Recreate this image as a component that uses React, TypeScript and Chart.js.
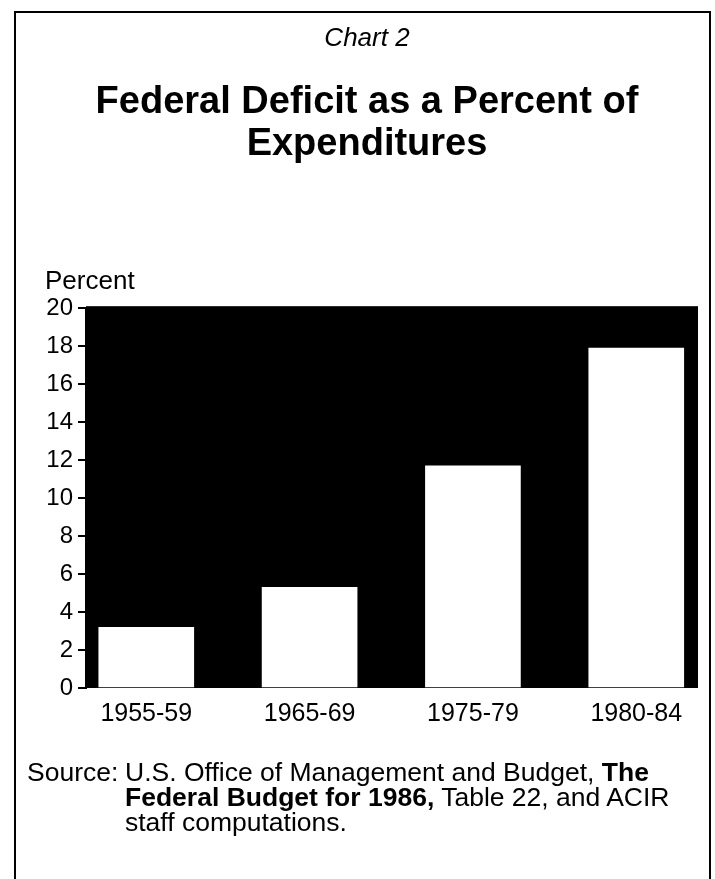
import React, { useEffect, useRef } from "react";
import { Chart, registerables } from "chart.js";

Chart.register(...registerables);

const categories = ["1955-59", "1965-69", "1975-79", "1980-84"];
const deficitPct = [3.2, 5.3, 11.7, 17.9];
const yTickValues = [0, 2, 4, 6, 8, 10, 12, 14, 16, 18, 20];
const chartLabel = "Chart 2";
const titleLines = ["Federal Deficit as a Percent of", "Expenditures"];
const yAxisLabel = "Percent";

const FONT = "'Liberation Sans', Arial, Helvetica, sans-serif";

const blackPlot = {
  id: "blackPlot",
  beforeDatasetsDraw(chart: any) {
    const { ctx, chartArea } = chart;
    ctx.save();
    ctx.fillStyle = "#000";
    ctx.fillRect(chartArea.left, chartArea.top - 2, chartArea.right - chartArea.left, chartArea.bottom - chartArea.top + 2);
    ctx.restore();
  },
  afterDraw(chart: any) {
    const { ctx, chartArea } = chart;
    ctx.save();
    ctx.fillStyle = "#000";
    ctx.font = `26px ${FONT}`;
    ctx.textBaseline = "alphabetic";
    ctx.textAlign = "left";
    ctx.fillText(yAxisLabel, 45, chartArea.top - 19);
    ctx.restore();
  },
};

export default function App() {
  const ref = useRef<HTMLCanvasElement>(null);

  useEffect(() => {
    if (!ref.current) return;
    const chart = new Chart(ref.current, {
      type: "bar",
      data: {
        datasets: [
          {
            data: deficitPct.map((v, i) => ({ x: i, y: v })),
            backgroundColor: "#fff",
            borderWidth: 0,
            barThickness: 95,
          },
        ],
      },
      plugins: [blackPlot],
      options: {
        responsive: false,
        animation: false,
        events: [],
        layout: { padding: { left: 36, right: 17, top: 0, bottom: 139 } },
        plugins: {
          legend: { display: false },
          tooltip: { enabled: false },
          title: {
            display: true,
            text: chartLabel,
            color: "#000",
            font: { family: FONT, size: 26, style: "italic", weight: "normal", lineHeight: 1.2 },
            padding: { top: 23, bottom: 0 },
          },
          subtitle: {
            display: true,
            text: titleLines,
            color: "#000",
            font: { family: FONT, size: 38, weight: "bold", lineHeight: 1.105 },
            padding: { top: 27, bottom: 143 },
          },
        },
        scales: {
          x: {
            type: "linear",
            offset: false,
            min: -0.369,
            max: 3.378,
            afterBuildTicks: (scale: any) => {
              scale.ticks = categories.map((_, i) => ({ value: i }));
            },
            ticks: {
              color: "#000",
              font: { family: FONT, size: 25 },
              padding: 11,
              maxRotation: 0,
              autoSkip: false,
              callback: (v: any) => categories[v as number] ?? "",
            },
            grid: { display: false, drawTicks: false, offset: false },
            border: { display: false },
          },
          y: {
            min: 0,
            max: 20,
            afterFit: (scale: any) => {
              scale.width = 50;
            },
            afterBuildTicks: (scale: any) => {
              scale.ticks = yTickValues.map((v) => ({ value: v }));
            },
            ticks: {
              color: "#000",
              font: { family: FONT, size: 24 },
              padding: 5,
            },
            grid: { drawOnChartArea: false, drawTicks: true, tickLength: 8, color: "#000", lineWidth: 2 },
            border: { display: true, color: "#000", width: 2 },
          },
        },
      },
    });
    return () => chart.destroy();
  }, []);

  return (
    <div style={{ position: "absolute", left: 0, top: 0, width: 715, height: 879, overflow: "hidden", background: "#fff" }}>
      <canvas ref={ref} width={715} height={879} style={{ position: "absolute", left: 0, top: 0, display: "block" }} />
      <div
        style={{
          position: "absolute",
          left: 14,
          top: 11,
          width: 697,
          height: 868,
          border: "2px solid #000",
          borderBottom: "none",
          boxSizing: "border-box",
          pointerEvents: "none",
        }}
      />
      <div
        style={{
          position: "absolute",
          left: 27,
          top: 760,
          fontFamily: FONT,
          fontSize: 26.5,
          lineHeight: "25px",
          color: "#000",
          display: "flex",
        }}
      >
        <span style={{ width: 98, flex: "none", whiteSpace: "nowrap" }}>Source:</span>
        <span style={{ whiteSpace: "nowrap" }}>
          U.S. Office of Management and Budget, <b>The</b>
          <br />
          <b>Federal Budget for 1986,</b> Table 22, and ACIR
          <br />
          staff computations.
        </span>
      </div>
    </div>
  );
}
